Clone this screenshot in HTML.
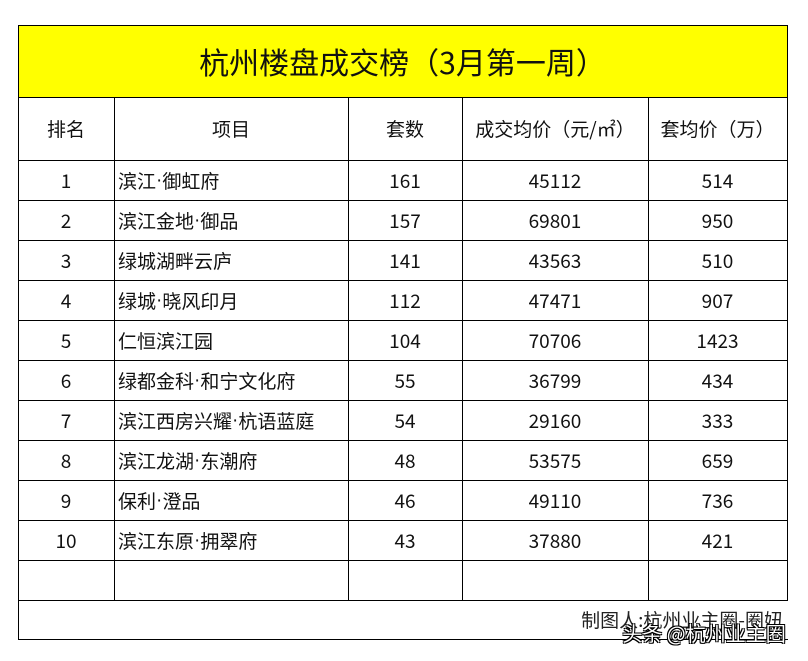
<!DOCTYPE html>
<html><head><meta charset="utf-8"><style>
body{margin:0;width:808px;height:661px;background:#fff;font-family:"Noto Sans CJK SC",sans-serif;color:#111;position:relative;overflow:hidden}
.c{position:absolute;box-sizing:border-box;display:flex;align-items:center;justify-content:center;font-size:19px;line-height:1}
.l{justify-content:flex-start;padding-left:4px}
.h{position:absolute;background:#000}
.d{font-family:"Liberation Sans",sans-serif}
</style></head><body>
<div style="position:absolute;left:18px;top:25px;width:769px;height:72px;background:#ffff00"></div>
<div class="c" style="left:18px;top:25px;width:769px;height:72px;font-size:30px">杭州楼盘成交榜（3月第一周）</div>
<div id="g"></div>
<div class="c" style="left:18px;top:600px;width:765px;height:38px;justify-content:flex-end;font-size:19px;color:#222">制图人:杭州业主圈-圈妞</div>
<div class="c" style="left:618px;top:620px;width:172px;height:26px;font-size:20px;color:#fff;text-shadow:0 0 1px #000,1px 1px 0 #000,-1px -1px 0 #000,1px -1px 0 #000,-1px 1px 0 #000">头条 @杭州业主圈</div>
<script>
var X=[18,114,348,462,648,787];
var rows=[["排名","项目","套数","成交均价（元/㎡）","套均价（万）"],
["1","滨江·御虹府","161","45112","514"],["2","滨江金地·御品","157","69801","950"],["3","绿城湖畔云庐","141","43563","510"],["4","绿城·晓风印月","112","47471","907"],["5","仁恒滨江园","104","70706","1423"],["6","绿都金科·和宁文化府","55","36799","434"],["7","滨江西房兴耀·杭语蓝庭","54","29160","333"],["8","滨江龙湖·东潮府","48","53575","659"],["9","保利·澄品","46","49110","736"],["10","滨江东原·拥翠府","43","37880","421"],["","","","",""]];
var h="";
var Y=[97,160];for(var i=1;i<=11;i++)Y.push(160+40*i);
for(var r=0;r<rows.length;r++){for(var c=0;c<5;c++){var t=rows[r][c].replace("·",'<span class="d">·</span>');h+='<div class="c'+(c==1&&r>0?' l':'')+'" style="left:'+X[c]+'px;top:'+Y[r]+'px;width:'+(X[c+1]-X[c])+'px;height:'+(Y[r+1]-Y[r])+'px">'+t+'</div>';}}
var hl=[25,97,160,200,240,280,320,360,400,440,480,520,560,600,639];
hl.forEach(function(y){h+='<div class="h" style="left:18px;top:'+y+'px;width:770px;height:1px"></div>'});
h+='<div class="h" style="left:18px;top:25px;width:1px;height:615px"></div><div class="h" style="left:787px;top:25px;width:1px;height:575px"></div>';
[114,348,462,648].forEach(function(x){h+='<div class="h" style="left:'+x+'px;top:97px;width:1px;height:503px"></div>'});
document.getElementById("g").innerHTML=h;
</script>
</body></html>
